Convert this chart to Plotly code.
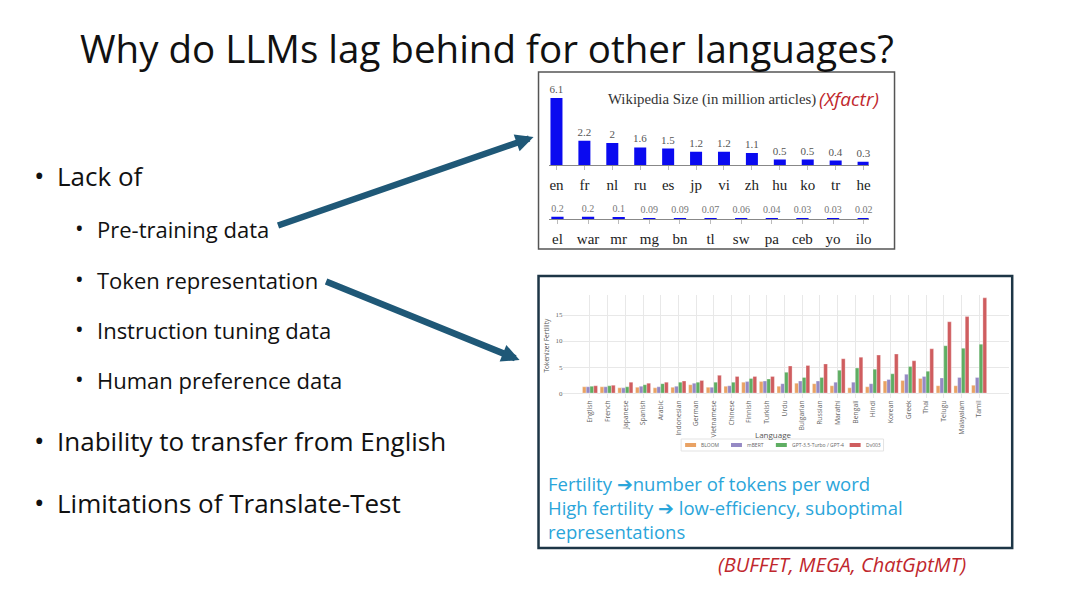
import plotly.graph_objects as go

W, H = 1080, 607
OFF = 8  # page body margin of the html page

# Wikipedia size (million articles)
wiki_top_langs = ["en", "fr", "nl", "ru", "es", "jp", "vi", "zh", "hu", "ko", "tr", "he"]
wiki_top_vals = [6.1, 2.2, 2, 1.6, 1.5, 1.2, 1.2, 1.1, 0.5, 0.5, 0.4, 0.3]
wiki_bot_langs = ["el", "war", "mr", "mg", "bn", "tl", "sw", "pa", "ceb", "yo", "ilo"]
wiki_bot_vals = [0.2, 0.2, 0.1, 0.09, 0.09, 0.07, 0.06, 0.04, 0.03, 0.03, 0.02]

# Tokenizer fertility per language
languages = ["English", "French", "Japanese", "Spanish", "Arabic", "Indonesian", "German",
             "Vietnamese", "Chinese", "Finnish", "Turkish", "Urdu", "Bulgarian", "Russian",
             "Marathi", "Bengali", "Hindi", "Korean", "Greek", "Thai", "Telugu", "Malayalam", "Tamil"]
bloom = [1.2, 1.2, 1.0, 1.1, 1.0, 1.1, 1.6, 1.1, 1.3, 2.1, 2.2, 1.3, 1.9, 1.8, 1.4, 1.0, 1.2, 2.3, 2.4, 2.8, 1.4, 1.4, 1.5]
mbert = [1.2, 1.2, 1.0, 1.3, 1.2, 1.3, 1.9, 1.1, 1.4, 2.2, 2.3, 1.8, 2.3, 2.3, 2.1, 2.1, 1.8, 2.6, 3.6, 3.2, 2.9, 3.0, 3.0]
gpt = [1.3, 1.4, 1.2, 1.6, 1.8, 2.1, 2.1, 2.1, 2.1, 2.8, 2.7, 4.0, 3.0, 3.0, 4.4, 4.8, 4.6, 3.7, 5.1, 4.2, 9.1, 8.6, 9.4]
dv003 = [1.4, 1.5, 2.1, 1.9, 2.1, 2.3, 2.4, 3.4, 3.2, 3.2, 3.2, 5.2, 5.3, 5.6, 6.6, 6.9, 7.3, 7.5, 6.2, 8.5, 13.7, 14.7, 18.3]
series_names = ["BLOOM", "mBERT", "GPT-3.5-Turbo / GPT-4", "Dv003"]
series_colors = ["#e9a264", "#9589c4", "#5fae63", "#cf5d5f"]


def px_x(x):
    return (x - OFF) / W


def px_y(y):
    return 1 - (y - OFF) / H


serif = "Liberation Serif"
sans = "Open Sans"

fig = go.Figure()

# Wikipedia bars
fig.add_trace(go.Bar(
    x=wiki_top_langs, y=wiki_top_vals, width=0.43,
    marker=dict(color="#0a0af0", line=dict(width=0)),
    text=[str(v) for v in wiki_top_vals], textposition="outside",
    textfont=dict(family=serif, size=11, color="#555"),
    cliponaxis=False, constraintext="none", showlegend=False,
    xaxis="x", yaxis="y"
))
fig.add_trace(go.Bar(
    x=wiki_bot_langs, y=wiki_bot_vals, width=0.4,
    marker=dict(color="#0a0af0", line=dict(width=0)),
    text=[str(v) for v in wiki_bot_vals], textposition="outside",
    textfont=dict(family=serif, size=10, color="#777"),
    cliponaxis=False, constraintext="none", showlegend=False,
    xaxis="x2", yaxis="y2"
))

# Fertility bars
for name, vals, col in zip(series_names, [bloom, mbert, gpt, dv003], series_colors):
    fig.add_trace(go.Bar(
        x=languages, y=vals, name=name, showlegend=False,
        marker=dict(color=col, line=dict(color="#ffffff", width=0.3)),
        xaxis="x3", yaxis="y3"
    ))

wiki_x_common = dict(
    showline=True, linecolor="#888", linewidth=1.2, ticks="outside", ticklen=4,
    tickcolor="#bbb", showgrid=False, zeroline=False,
    tickfont=dict(family=serif, size=15, color="#222"), ticklabelstandoff=2,
)
fig.update_layout(
    width=W, height=H,
    margin=dict(l=0, r=0, t=0, b=0),
    paper_bgcolor="white", plot_bgcolor="rgba(0,0,0,0)",
    barmode="group", bargap=0.15, bargroupgap=0,
    xaxis=dict(domain=[px_x(551), px_x(871)], range=[-0.25, 11.18], anchor="y", **wiki_x_common),
    yaxis=dict(domain=[px_y(165), px_y(85)], range=[0, 80 / 11], visible=False, anchor="x"),
    xaxis2=dict(domain=[px_x(551), px_x(871)], range=[-0.26, 10.16], anchor="y2", **wiki_x_common),
    yaxis2=dict(domain=[px_y(219), px_y(200)], range=[0, 19 / 11], visible=False, anchor="x2"),
    xaxis3=dict(
        domain=[px_x(565), px_x(1012)], range=[-1.5, 23.7], anchor="y3",
        showgrid=True, gridcolor="#e8e8e8", gridwidth=1, zeroline=False,
        tickangle=-90, tickfont=dict(family=sans, size=6.8, color="#666"), ticks="",
    ),
    yaxis3=dict(
        domain=[px_y(398), px_y(295)], range=[-0.95, 18.85], anchor="x3",
        tickvals=[0, 5, 10, 15], showgrid=True, gridcolor="#e8e8e8", zeroline=False,
        tickfont=dict(family=serif, size=7, color="#666"), ticks="",
    ),
)

shapes = [
    dict(type="rect", xref="paper", yref="paper", x0=px_x(540), x1=px_x(897), y0=px_y(249), y1=px_y(72),
         line=dict(color="#555", width=1.5), layer="above"),
    dict(type="rect", xref="paper", yref="paper", x0=px_x(540), x1=px_x(1015), y0=px_y(548), y1=px_y(276),
         line=dict(color="#1d3646", width=2.5), layer="above"),
    # legend frame of the fertility chart
    dict(type="rect", xref="paper", yref="paper", x0=px_x(683), x1=px_x(886), y0=px_y(451), y1=px_y(439),
         line=dict(color="#e3e3e3", width=1), fillcolor="white"),
]

ann = []


def text(x, y, s, size, color="#111", family=sans, anchor="left", **kw):
    ann.append(dict(xref="paper", yref="paper", x=px_x(x), y=px_y(y), text=s, showarrow=False,
                    xanchor=anchor, yanchor="middle", font=dict(family=family, size=size, color=color), **kw))


# legend entries (swatch + label)
for name, col, sx in zip(series_names, series_colors, [687, 733, 778, 852]):
    shapes.append(dict(type="rect", xref="paper", yref="paper", x0=px_x(sx), x1=px_x(sx + 11),
                       y0=px_y(447), y1=px_y(443), line=dict(width=0), fillcolor=col))
    text(sx + 14, 445, name, 5, color="#666")

fig.update_layout(shapes=shapes)

text(488, 48, "Why do LLMs lag behind for other languages?", 38.5, anchor="center")

text(40, 175, "•", 28, anchor="center")
text(55, 176, "Lack of", 26)
for yy, s in [(229, "Pre-training data"), (280, "Token representation"),
              (330, "Instruction tuning data"), (380, "Human preference data")]:
    text(80, yy - 1, "•", 23, anchor="center")
    text(95, yy, s, 22)
text(40, 440, "•", 28, anchor="center")
text(55, 441, "Inability to transfer from English", 26)
text(40, 502, "•", 28, anchor="center")
text(55, 503, "Limitations of Translate-Test", 26)

text(608, 100, "Wikipedia Size (in million articles)", 14.8, color="#333", family=serif)
text(819, 99, "<i>(Xfactr)</i>", 19, color="#c0272d")

text(549, 345, "Tokenizer Fertility", 6.5, color="#555", anchor="center", textangle=-90)
text(776, 434, "Language", 8, color="#555", anchor="center")

blue = "#2aa5da"
text(547, 483, "Fertility ➔number of tokens per word", 18.5, color=blue)
text(547, 507, "High fertility ➔ low-efficiency, suboptimal", 18.5, color=blue)
text(547, 531, "representations", 18.5, color=blue)

text(844, 564, "<i>(BUFFET, MEGA, ChatGptMT)</i>", 20, color="#c0272d", anchor="center")

# arrows (tail -> tip, pixel coordinates)
for tail, tip in [((278, 226), (535, 137)), ((326, 281), (521, 360))]:
    ann.append(dict(xref="paper", yref="paper", x=px_x(tip[0]), y=px_y(tip[1]),
                    ax=tail[0] - tip[0], ay=tail[1] - tip[1], showarrow=True, text="",
                    arrowhead=2, arrowsize=0.55, arrowwidth=6.5, arrowcolor="#1f5877", standoff=0))

fig.update_layout(annotations=ann)

fig.write_html("out.html")
